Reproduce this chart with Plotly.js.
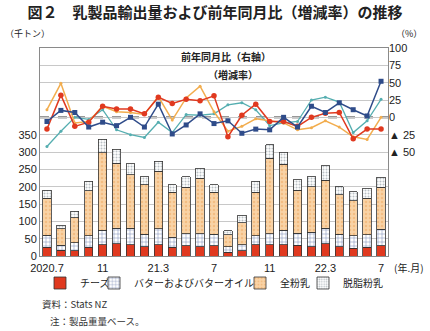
<!DOCTYPE html>
<html>
<head>
<meta charset="utf-8">
<script src="https://cdn.plot.ly/plotly-3.0.1.min.js"></script>
<style>
html,body{margin:0;padding:0;background:#fff;}
#chart{width:430px;height:331px;}
</style>
</head>
<body>
<div id="chart"></div>
<script>
// ---- data ----
var months = ["2020.7","2020.8","2020.9","2020.10","2020.11","2020.12","2021.1","2021.2","2021.3","2021.4","2021.5","2021.6","2021.7","2021.8","2021.9","2021.10","2021.11","2021.12","2022.1","2022.2","2022.3","2022.4","2022.5","2022.6","2022.7"];
var tickMonths = ["2020.7","2020.11","2021.3","2021.7","2021.11","2022.3","2022.7"];
var tickLabels = ["2020.7","11","21.3","7","11","22.3","7"];
var seriesNames = ["チーズ","バターおよびバターオイル","全粉乳","脱脂粉乳"];

// export volume (thousand tonnes)
var cheese = [25,16,15,25,32,35,32,27,32,25,30,27,30,11,15,32,32,32,31,27,35,27,22,25,29];
var butter = [35,15,23,33,43,45,48,36,46,29,34,37,33,16,17,26,32,43,35,42,45,36,36,36,48];
var whole  = [107,48,73,130,223,188,154,142,166,130,134,161,121,34,64,126,218,190,123,131,138,113,102,106,121];
var skim   = [22,10,18,27,39,40,32,24,29,21,31,28,21,12,22,31,39,34,31,29,42,24,26,29,29];

// year-on-year change (%), right axis
var cheeseYoY = [-17,32,-13,-7,16,12,12,5,29,20,26,24,31,-28,3,19,-6,-6,-13,0,6,7,-31,-17,-17];
var butterYoY = [-6,10,7,-14,-7,-12,0,-14,19,-24,-11,5,-9,-5,-23,-17,-18,0,-14,16,7,21,11,2,52];
var wholeYoY  = [11,49,-8,-6,16,8,7,4,30,-4,28,45,8,-20,-13,-2,-5,-8,-18,-15,-5,-14,-28,-32,0];
var skimYoY   = [-42,-20,0,-3,11,-18,-25,-29,-7,-22,4,3,5,18,21,11,-12,-8,-6,25,29,22,-22,-5,26];

var leftTicks = [0,50,100,150,200,250,300,350,400,450,500,550,600];
var leftTickText = ["0","50","100","150","200","250","300","350","","","","",""];
var rightTicks = [100,75,50,25,0,-25,-50];
var rightTickText = ["100","75","50","25","0","▲ 25","▲ 50"];

// ---- styles ----
var FONT = "Liberation Sans, Arial, Noto Sans CJK JP, sans-serif";
var JFONT = "Noto Sans CJK JP, sans-serif";
var cRed = "#e0391f", cBlue = "#2f4c8a", cOrange = "#f2ad4e", cTeal = "#55aeb0";

function bar(name, y, fill, legendId, pattern){
  var t = {type:"bar", name:name, x:months, y:y, yaxis:"y", legend:legendId,
    marker:{color:fill, line:{color:"#333", width:0.8}}, hoverinfo:"skip"};
  if(pattern) t.marker.pattern = pattern;
  return t;
}
function line(y, color, symbol, size, width){
  return {type:"scatter", mode:"lines+markers", x:months, y:y, yaxis:"y2", showlegend:false,
    line:{color:color, width:width}, marker:{color:color, symbol:symbol, size:size}, hoverinfo:"skip"};
}

var data = [
  bar(seriesNames[0], cheese, cRed, "legend"),
  bar(seriesNames[1], butter, "#ffffff", "legend2", {shape:"+", fgcolor:"#7d8db5", bgcolor:"#ffffff", size:4, solidity:0.25}),
  bar(seriesNames[2], whole, "#f9cf9f", "legend3", {shape:".", fgcolor:"#f3bd83", bgcolor:"#f9d3a6", size:4, solidity:0.3}),
  bar(seriesNames[3], skim, "#ffffff", "legend4", {shape:".", fgcolor:"#b9c0c4", bgcolor:"#ffffff", size:3, solidity:0.35}),
  line(skimYoY, cTeal, "circle", 3, 1.3),
  line(wholeYoY, cOrange, "circle", 3, 1.5),
  line(cheeseYoY, cRed, "circle", 5.5, 1.5),
  line(butterYoY, cBlue, "square", 5, 1.5)
];

var L = 40, R = 388, T = 48, B = 256;
function px(x){ return (x - L) / (R - L); }
function py(y){ return (B - y) / (B - T); }

function legendAt(textLeft){
  return {orientation:"h", x:px(textLeft - 40), xanchor:"left", y:py(283), yanchor:"middle",
    font:{family:JFONT, size:10, color:"#222"}, itemwidth:30, bgcolor:"rgba(0,0,0,0)", borderwidth:0};
}

var annotations = [
  {xref:"paper", yref:"paper", x:px(3), y:py(33), xanchor:"left", yanchor:"middle", text:"（千トン）", showarrow:false, font:{family:JFONT, size:9, color:"#222"}},
  {xref:"paper", yref:"paper", x:px(394), y:py(33), xanchor:"left", yanchor:"middle", text:"（%）", showarrow:false, font:{family:JFONT, size:9, color:"#222"}},
  {xref:"paper", yref:"paper", x:px(226), y:py(57), xanchor:"center", yanchor:"middle", text:"<b>前年同月比（右軸）</b>", showarrow:false, font:{family:JFONT, size:10, color:"#222"}},
  {xref:"paper", yref:"paper", x:px(233), y:py(74), xanchor:"center", yanchor:"middle", text:"<b>（増減率）</b>", showarrow:false, font:{family:JFONT, size:10, color:"#222"}},
  {xref:"paper", yref:"paper", x:px(392), y:py(267), xanchor:"left", yanchor:"middle", text:"(年.月)", showarrow:false, font:{family:JFONT, size:10, color:"#222"}},
  {xref:"x", yref:"y2", x:months[5], y:cheeseYoY[5], ax:-30, ay:-16, text:"<b>チーズ</b>", showarrow:true, arrowhead:0, arrowwidth:0.8, arrowcolor:"#444", font:{family:JFONT, size:10, color:"#222"}},
  {xref:"x", yref:"y2", x:months[14], y:22, ax:36, ay:-9, text:"<b>脱脂粉乳</b>", showarrow:true, arrowhead:0, arrowwidth:0.8, arrowcolor:"#444", font:{family:JFONT, size:10, color:"#222"}},
  {xref:"x", yref:"y2", x:months[19], y:wholeYoY[19], ax:18, ay:19, text:"<b>全粉乳</b>", showarrow:true, arrowhead:0, arrowwidth:0.8, arrowcolor:"#444", font:{family:JFONT, size:10, color:"#222"}},
  {xref:"x", yref:"y2", x:months[12], y:butterYoY[12], ax:-20, ay:31, text:"<b>バターおよび<br>バターオイル</b>", showarrow:true, arrowhead:0, arrowwidth:0.8, arrowcolor:"#444", align:"left", font:{family:JFONT, size:10, color:"#222"}},
  {xref:"paper", yref:"paper", x:px(40), y:py(304), xanchor:"left", yanchor:"middle", text:"資料：Stats NZ", showarrow:false, font:{family:JFONT, size:9.5, color:"#333"}},
  {xref:"paper", yref:"paper", x:px(48), y:py(321), xanchor:"left", yanchor:"middle", text:"注：製品重量ベース。", showarrow:false, font:{family:JFONT, size:9.5, color:"#333"}}
];

var layout = {
  width:430, height:331,
  margin:{l:L, r:430-R, t:T, b:331-B, pad:0},
  paper_bgcolor:"#ffffff", plot_bgcolor:"#ffffff",
  font:{family:FONT, size:11, color:"#222"},
  title:{text:"<b>図２　乳製品輸出量および前年同月比（増減率）の推移</b>", x:0.5, xanchor:"center", y:1-13/331, yref:"container", yanchor:"middle", font:{family:JFONT, size:15, color:"#222"}},
  barmode:"stack", bargap:0.4,
  showlegend:true,
  legend:legendAt(80),
  legend2:legendAt(134),
  legend3:legendAt(280),
  legend4:legendAt(343),
  xaxis:{type:"category", categoryorder:"array", categoryarray:months, range:[-0.5, 24.5], tickvals:tickMonths, ticktext:tickLabels, ticks:"", ticklabelstandoff:2, showgrid:false, showline:true, linecolor:"#8a8a8a", linewidth:1, mirror:true, tickfont:{family:FONT, size:11, color:"#222"}, fixedrange:true},
  yaxis:{range:[0,600], tickvals:leftTicks, ticktext:leftTickText, ticks:"", showgrid:true, gridcolor:"#c8c8c8", gridwidth:1, zeroline:false, showline:true, linecolor:"#8a8a8a", mirror:true, tickfont:{family:FONT, size:11, color:"#222"}},
  yaxis2:{overlaying:"y", side:"right", range:[-200,100], tickvals:rightTicks, ticktext:rightTickText, ticks:"", showgrid:false, zeroline:false, showline:false, tickfont:{family:FONT, size:11, color:"#222"}},
  shapes:[{type:"line", xref:"paper", yref:"y2", x0:0, x1:1, y0:0, y1:0, layer:"below", line:{color:"#333", width:1.8, dash:"dash"}}],
  annotations:annotations
};

Plotly.newPlot("chart", data, layout, {staticPlot:true, displayModeBar:false});
</script>
</body>
</html>
